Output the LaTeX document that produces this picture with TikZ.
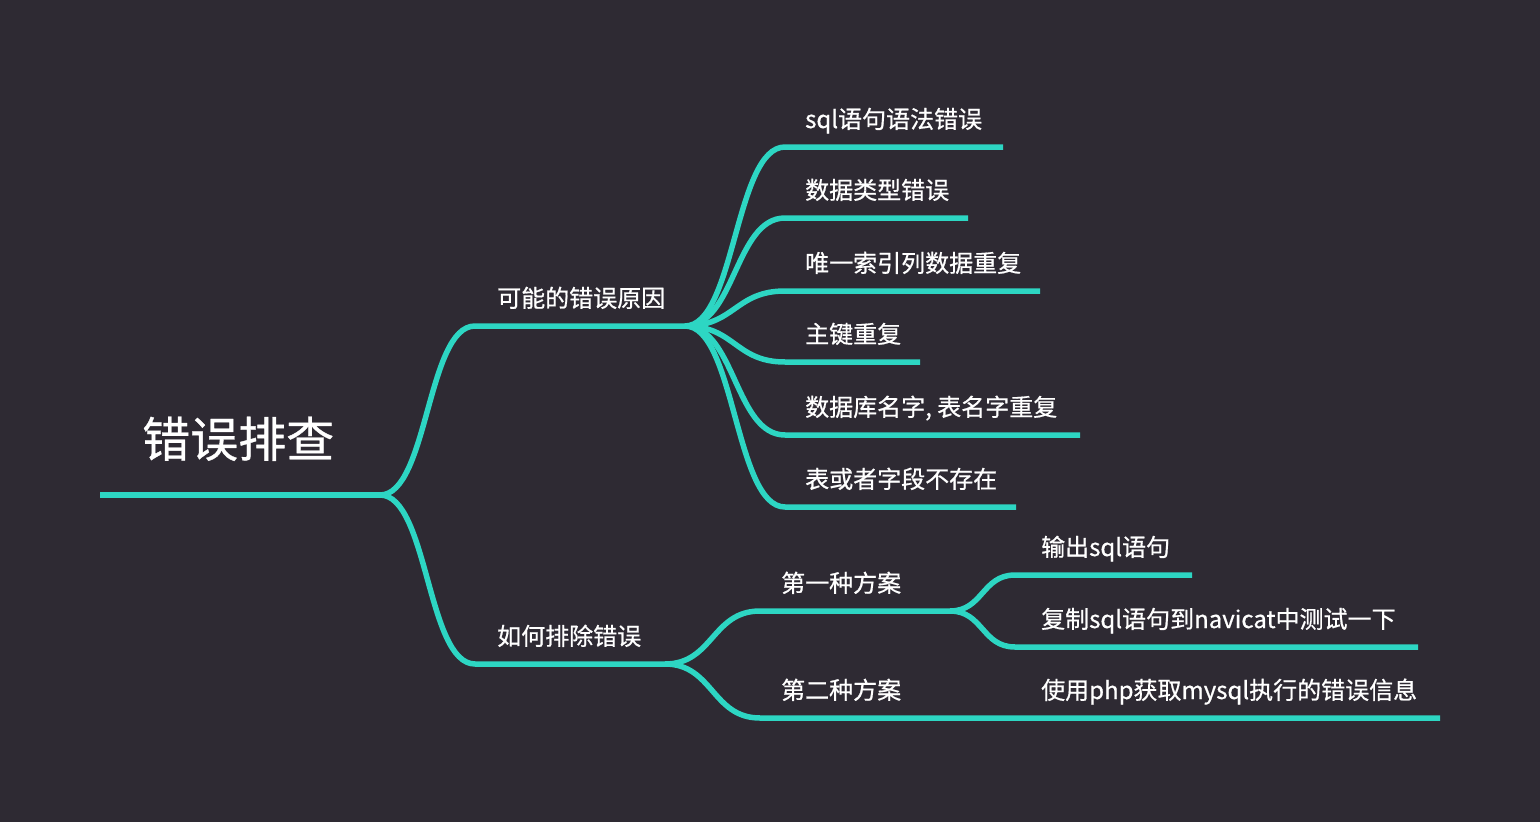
\documentclass[tikz,border=0pt]{standalone}
\usepackage{fontspec}
\setmainfont[FakeBold=0.7]{Noto Sans CJK SC}
\definecolor{bgc}{HTML}{2E2A33}
\definecolor{tealc}{HTML}{2DD6C3}
\begin{document}
\begin{tikzpicture}[x=1pt,y=-1pt,
  br/.style={draw=tealc, line width=5.5pt},
  lbl/.style={text=white, font=\fontsize{24}{28}\selectfont, anchor=base west, inner sep=0pt},
  rootlbl/.style={text=white, font=\fontsize{48}{56}\selectfont, anchor=base west, inner sep=0pt}]
\fill[bgc] (0,0) rectangle (1540,822);
\useasboundingbox (0,0) rectangle (1540,822);
% coordinates
\coordinate (r0) at (100,495);
\coordinate (j0) at (380,495);
\coordinate (b1s) at (475,326);
\coordinate (j1) at (685,326);
\coordinate (b2s) at (475,664);
\coordinate (j2) at (665,664);
\coordinate (s1a) at (785,147);  \coordinate (s1b) at (1003,147);
\coordinate (s2a) at (785,218);  \coordinate (s2b) at (968,218);
\coordinate (s3a) at (785,291);  \coordinate (s3b) at (1040,291);
\coordinate (s4a) at (785,362);  \coordinate (s4b) at (920,362);
\coordinate (s5a) at (785,435);  \coordinate (s5b) at (1080,435);
\coordinate (s6a) at (785,507);  \coordinate (s6b) at (1016,507);
\coordinate (p1a) at (760,611);  \coordinate (j3) at (950,611);
\coordinate (p2a) at (760,718);  \coordinate (p2b) at (1440,718);
\coordinate (q1a) at (1015,575); \coordinate (q1b) at (1192,575);
\coordinate (q2a) at (1015,647); \coordinate (q2b) at (1418,647);
% connectors
\draw[br] (r0) -- (j0);
\draw[br] (j0) .. controls +(48,0) and +(-48,0) .. (b1s) -- (j1);
\draw[br] (j0) .. controls +(48,0) and +(-48,0) .. (b2s) -- (j2);
\foreach \a/\b in {s1a/s1b,s2a/s2b,s3a/s3b,s4a/s4b,s5a/s5b,s6a/s6b}{
  \draw[br] (j1) .. controls +(50,0) and +(-50,0) .. (\a) -- (\b);
}
\draw[br] (j2) .. controls +(48,0) and +(-48,0) .. (p1a) -- (j3);
\draw[br] (j2) .. controls +(48,0) and +(-48,0) .. (p2a) -- (p2b);
\draw[br] (j3) .. controls +(33,0) and +(-33,0) .. (q1a) -- (q1b);
\draw[br] (j3) .. controls +(33,0) and +(-33,0) .. (q2a) -- (q2b);
% labels
\node[rootlbl] (root) at (142,457) {错误排查};
\node[lbl] (b1) at (497,307) {可能的错误原因};
\node[lbl] (b2) at (497,645) {如何排除错误};
\node[lbl] (t1) at (805,128) {sql语句语法错误};
\node[lbl] (t2) at (805,199) {数据类型错误};
\node[lbl] (t3) at (805,272) {唯一索引列数据重复};
\node[lbl] (t4) at (805,343) {主键重复};
\node[lbl] (t5) at (805,416) {数据库名字, 表名字重复};
\node[lbl] (t6) at (805,488) {表或者字段不存在};
\node[lbl] (u1) at (781,592) {第一种方案};
\node[lbl] (u2) at (781,699) {第二种方案};
\node[lbl] (v1) at (1041,556) {输出sql语句};
\node[lbl] (v2) at (1041,628) {复制sql语句到navicat中测试一下};
\node[lbl] (v3) at (1041,699) {使用php获取mysql执行的错误信息};
\end{tikzpicture}
\end{document}
